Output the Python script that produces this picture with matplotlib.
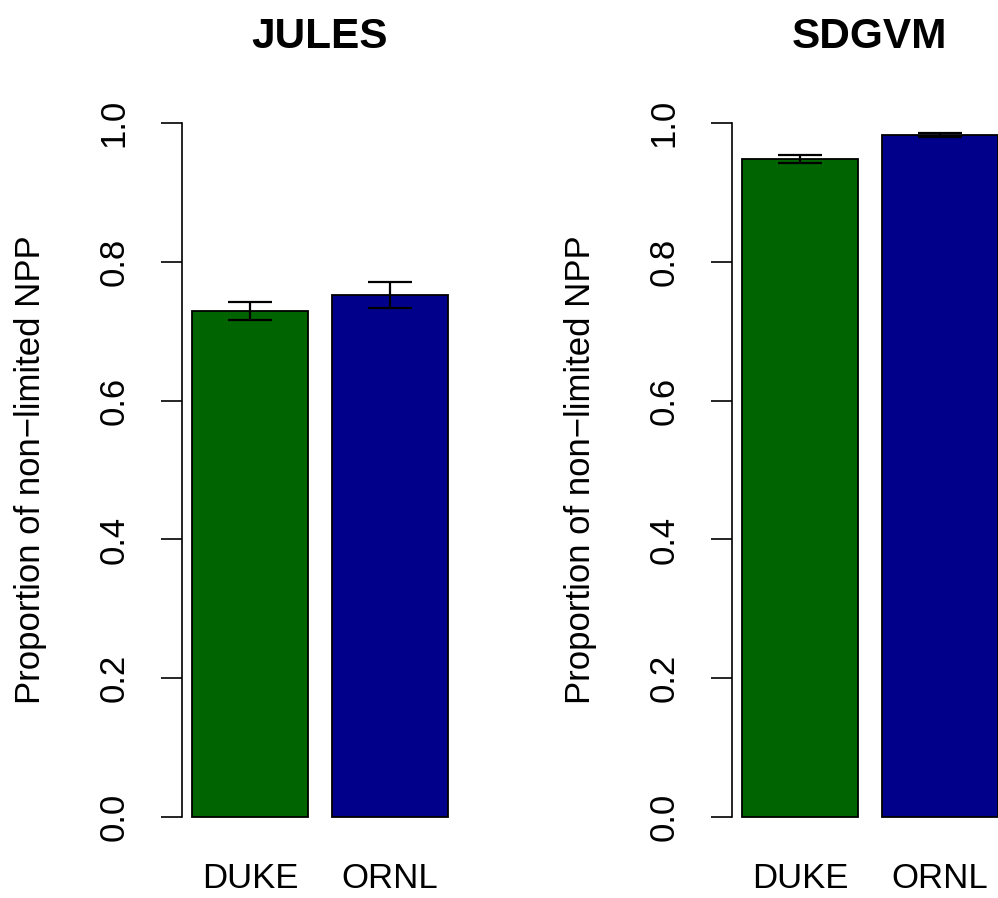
import numpy as np
import matplotlib.pyplot as plt

plt.rcParams['font.family'] = ['Liberation Sans', 'DejaVu Sans']

# --- data ---
sites = ["DUKE", "ORNL"]
models = ["JULES", "SDGVM"]
bar_colors = ["#006400", "#00008B"]
prop_npp = {
    "JULES": [0.729, 0.752],
    "SDGVM": [0.948, 0.982],
}
prop_err = {
    "JULES": [0.0125, 0.0187],
    "SDGVM": [0.006, 0.003],
}
yticks = [0.0, 0.2, 0.4, 0.6, 0.8, 1.0]

# --- layout (R barplot style: width 1, space 0.2) ---
W, H = 998, 898
fig = plt.figure(figsize=(W / 100, H / 100), dpi=100)

panel_w = 276.2
panel_lefts = [181.8, 731.8]
top_px, bot_px = 95, 845

x = np.array([0.7, 1.9])

for model, left_px in zip(models, panel_lefts):
    ax = fig.add_axes([left_px / W, 1 - bot_px / H, panel_w / W, (bot_px - top_px) / H])
    ax.bar(x, prop_npp[model], width=1.0, color=bar_colors,
           edgecolor="black", linewidth=1.3, zorder=2)
    ax.errorbar(x, prop_npp[model], yerr=prop_err[model], fmt="none",
                ecolor="black", elinewidth=1.6, capsize=16, capthick=1.6, zorder=3)

    ax.set_xlim(0.112, 2.488)
    ax.set_ylim(-0.04, 1.04)

    for side in ["top", "right", "bottom"]:
        ax.spines[side].set_visible(False)
    ax.spines["left"].set_bounds(0, 1)
    ax.spines["left"].set_linewidth(1.2)

    ax.set_yticks(yticks)
    ax.set_yticklabels([f"{t:.1f}" for t in yticks], rotation=90, va="center")
    ax.tick_params(axis="y", length=15, width=1.2, pad=22, labelsize=25)
    ax.set_xticks(x)
    ax.set_xticklabels(sites)
    ax.tick_params(axis="x", length=0, pad=12, labelsize=25)

    ax.set_ylabel("Proportion of non\u2212limited NPP", fontsize=25, labelpad=36)
    ax.set_title(model, fontsize=30.5, fontweight="bold", pad=34)

fig.savefig("out.png", dpi=100)
